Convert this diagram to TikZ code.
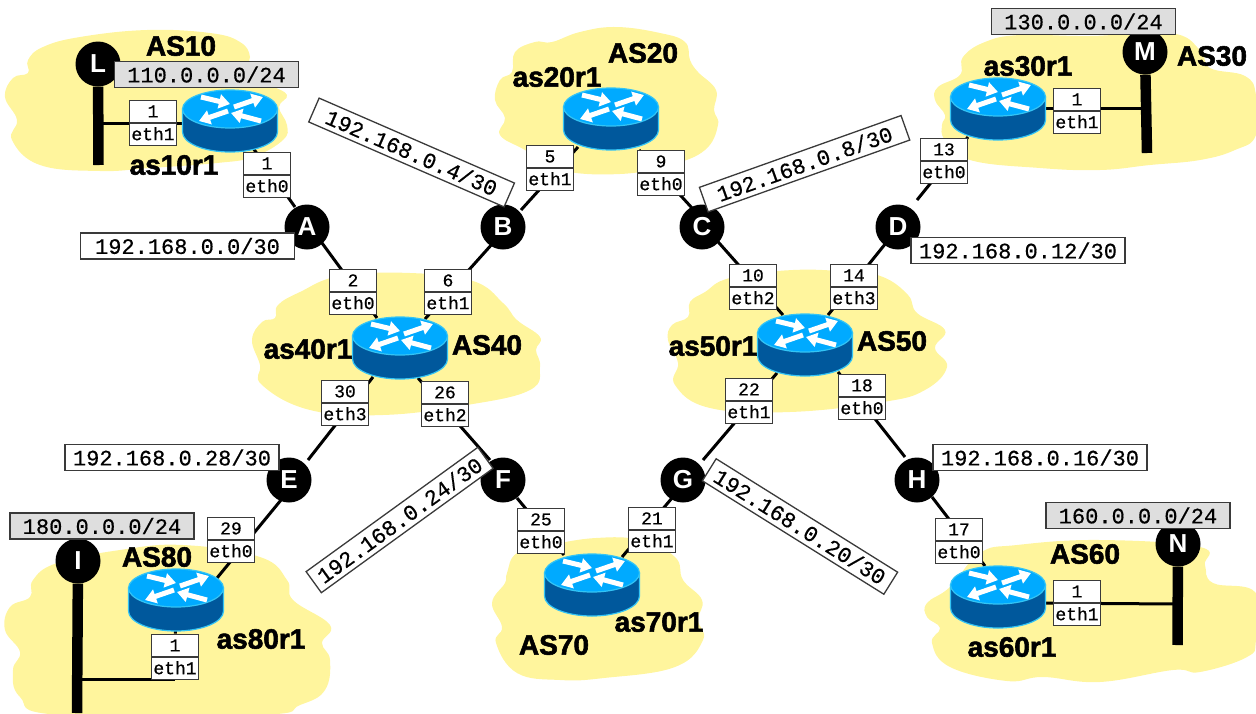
\documentclass[tikz,border=0pt]{standalone}
\usepackage{fontspec}
\setmainfont{Liberation Sans}
\newfontfamily\monof[FakeBold=0.5]{Liberation Mono}
\newfontfamily\monob[FakeBold=1.0]{Liberation Mono}
\newfontfamily\titlef[BoldFont={Liberation Sans Bold},BoldFeatures={FakeBold=2}]{Liberation Sans}
\usetikzlibrary{arrows.meta,shapes.multipart,calc}
\definecolor{cloudy}{HTML}{FFF59D}
\definecolor{rtop}{HTML}{00AAFF}
\definecolor{rside}{HTML}{00589C}
\definecolor{rrim}{HTML}{33C4F5}
\definecolor{grayb}{HTML}{DEDEDE}
\definecolor{boxline}{HTML}{3A3A3A}
\pgfdeclarelayer{cloudlayer}
\pgfdeclarelayer{linklayer}
\pgfsetlayers{cloudlayer,linklayer,main}
\tikzset{
  cloudpart/.style={fill=cloudy,draw=none},
  netlink/.style={draw=black,line width=3pt},
  busline/.style={draw=black,line width=10.5pt},
  hub/.style={circle,fill=black,minimum size=45pt,inner sep=0pt,text=white,font=\fontsize{26}{26}\selectfont\bfseries},
  ifbox/.style={rectangle split,rectangle split parts=2,draw=boxline,line width=1.3pt,fill=white,rectangle split part fill={white,black!4},minimum width=47pt,inner sep=0pt,text width=46pt,align=center,font=\fontsize{18}{18}\selectfont},
  subnetbox/.style={draw=boxline,line width=1.3pt,fill=white,minimum width=214pt,minimum height=26pt,inner sep=0pt,font=\monof\fontsize{22}{22}\selectfont},
  prefixbox/.style={subnetbox,fill=grayb,minimum width=184pt},
  titletext/.style={font=\titlef\bfseries\fontsize{28}{28}\selectfont,inner sep=0pt},
  routerbox/.style={rectangle,minimum width=95pt,minimum height=62pt,inner sep=0pt,draw=none},
  rarrow/.style={white,line width=5pt,-{Triangle[width=14pt,length=11pt]}}
}
\newcommand\routerat[3]{%
  \begin{scope}[shift={(#2,#3)}]
    \fill[rside,draw=rrim,line width=1.2pt] (-47.5,-12) -- (-47.5,11) arc[start angle=180,end angle=0,x radius=47.5,y radius=20] -- (47.5,-12) -- cycle;
    \fill[rtop,draw=rrim,line width=1.2pt] (0,-12) ellipse[x radius=47.5,y radius=19];
    \draw[rarrow] (-29,-24) -- (0,-17);
    \draw[rarrow] (4,-14) -- (33,-24);
    \draw[rarrow] (-2,-10) -- (-31,0);
    \draw[rarrow] (31,0) -- (1,-8);
  \end{scope}
  \node[routerbox] (#1) at (#2,#3) {};}
\newcommand\ifat[5]{\node[ifbox] (#1) at (#2,#3) {\rule[-5pt]{0pt}{21.5pt}\monof #4\nodepart{two}\rule[-5pt]{0pt}{21.5pt}\monob #5};}
\newcommand\hublink[6]{\draw[netlink] ($(#1)+(#2,#3)$) -- ($(#4)+(#5,#6)$);}
\begin{document}
\begin{tikzpicture}[x=1pt,y=-1pt]
\useasboundingbox (0,0) rectangle (1256,713);
\begin{pgfonlayer}{cloudlayer}
 % AS10
 \fill[cloudpart] plot[smooth cycle,tension=0.7] coordinates {(43,47)(80,37)(147,30)(210,33)(240,42)(250,57)(245,72)(270,85)(287,95)(279,107)(287,125)(283,140)(253,157)(217,163)(150,168)(100,171)(40,165)(12,140)(17,120)(5,97)(13,78)(28,73)(28,60)};
 % AS20
 \fill[cloudpart] plot[smooth cycle,tension=0.7] coordinates {(616,27)(660,33)(685,42)(690,60)(698,72)(716,90)(714,110)(718,125)(705,150)(670,165)(620,174)(560,170)(525,150)(500,135)(505,118)(495,100)(500,80)(512,72)(515,52)(535,42)(552,42)(580,32)};
 % AS30
 \fill[cloudpart] plot[smooth cycle,tension=0.7] coordinates {(1020,35)(1090,36)(1170,33)(1200,50)(1210,68)(1245,76)(1256,95)(1256,135)(1235,150)(1200,160)(1150,165)(1100,170)(1040,168)(970,160)(945,140)(942,125)(945,115)(935,100)(938,87)(960,75)(963,57)(985,42)};
 % AS40
 \fill[cloudpart] plot[smooth cycle,tension=0.7] coordinates {(300,292)(340,276)(410,273)(473,281)(503,303)(517,320)(540,337)(536,350)(540,367)(530,390)(467,405)(383,415)(310,410)(262,385)(260,365)(252,340)(262,322)(275,318)(278,305)};
 % AS50
 \fill[cloudpart] plot[smooth cycle,tension=0.7] coordinates {(705,292)(730,278)(793,270)(850,272)(883,277)(908,295)(917,313)(945,330)(935,348)(947,367)(925,390)(883,402)(790,412)(710,408)(675,385)(678,363)(668,340)(672,325)(688,317)(690,302)};
 % AS60
 \fill[cloudpart] plot[smooth cycle,tension=0.7] coordinates {(1017,545)(1100,540)(1200,547)(1205,565)(1213,583)(1256,593)(1256,640)(1247,657)(1200,672)(1173,670)(1100,682)(1043,677)(1007,681)(950,667)(932,643)(940,628)(927,617)(927,603)(950,587)(980,553)};
 % AS70
 \fill[cloudpart] plot[smooth cycle,tension=0.7] coordinates {(596,538)(640,540)(675,557)(683,580)(702,600)(698,620)(703,640)(675,667)(604,678)(560,680)(517,673)(496,643)(502,627)(492,603)(505,583)(507,573)(517,553)(550,545)};
 % AS80
 \fill[cloudpart] plot[smooth cycle,tension=0.7] coordinates {(120,550)(183,545)(260,557)(287,580)(293,600)(330,625)(322,643)(330,660)(325,690)(300,705)(260,715)(60,715)(20,697)(13,670)(20,652)(5,630)(10,607)(30,597)(33,580)(57,563)};
\end{pgfonlayer}

\routerat{as10r1}{230}{121}
\routerat{as20r1}{611}{119}
\routerat{as30r1}{998}{109}
\routerat{as40r1}{400}{348}
\routerat{as50r1}{805}{345}
\routerat{as60r1}{998}{597}
\routerat{as70r1}{592}{585}
\routerat{as80r1}{176}{600}

\node[hub] (L) at (98,64) {L};
\node[hub] (A) at (307,227) {A};
\node[hub] (B) at (503,227) {B};
\node[hub] (C) at (702,227) {C};
\node[hub] (D) at (898,227) {D};
\node[hub] (E) at (289,480) {E};
\node[hub] (F) at (503,480) {F};
\node[hub] (G) at (683,480) {G};
\node[hub] (H) at (917,480) {H};
\node[hub] (I) at (78,561) {I};
\node[hub] (M) at (1145,52) {M};
\node[hub] (N) at (1178,544) {N};

\ifat{a}{153}{123}{1}{eth1}
\ifat{b}{267}{175}{1}{eth0}
\ifat{c}{353}{292}{2}{eth0}
\ifat{d}{448}{292}{6}{eth1}
\ifat{e}{345}{403}{30}{eth3}
\ifat{f}{445}{404}{26}{eth2}
\ifat{g}{550}{168}{5}{eth1}
\ifat{h}{661}{173}{9}{eth0}
\ifat{i}{944}{161}{13}{eth0}
\ifat{j}{1077}{111}{1}{eth1}
\ifat{k}{753}{287}{10}{eth2}
\ifat{l}{854}{287}{14}{eth3}
\ifat{m}{749}{401}{22}{eth1}
\ifat{n}{862}{397}{18}{eth0}
\ifat{o}{959}{541}{17}{eth0}
\ifat{p}{1077}{603}{1}{eth1}
\ifat{q}{541}{531}{25}{eth0}
\ifat{r}{652}{530}{21}{eth1}
\ifat{s}{231}{540}{29}{eth0}
\ifat{t}{175}{657}{1}{eth1}

\coordinate (Lend) at (98.5,165);
\coordinate (Mend) at (1147,153);
\coordinate (Nend) at (1177.5,645);
\coordinate (Iend) at (77,713);
\coordinate (Lj) at (98.5,123);
\coordinate (Mj) at (1147,108);
\coordinate (Nj) at (1177.5,604);
\coordinate (Ij) at (77,679);
\coordinate (tj) at (175,679);
\coordinate (as10w) at (200,123);
\coordinate (as30e) at (1030,108);
\coordinate (as60e) at (1030,603);

\begin{pgfonlayer}{linklayer}
 \draw[busline] (L) -- (Lend);
 \draw[busline] (M) -- (Mend);
 \draw[busline] (N) -- (Nend);
 \draw[busline] (I) -- (Iend);
 \draw[netlink] (Lj) -- (as10w);
 \draw[netlink] (Mj) -- (as30e);
 \draw[netlink] (Nj) -- (as60e);
 \draw[netlink] (Ij) -- (tj);
 \draw[netlink] (t) -- (as80r1);
 \hublink{A}{-12}{-20}{as10r1}{23}{27}
 \hublink{A}{15}{16}{as40r1}{-23}{-30}
 \hublink{B}{18}{-17}{as20r1}{-33}{28}
 \hublink{B}{-10}{16}{as40r1}{25}{-29}
 \hublink{C}{-10}{-19}{as20r1}{28}{31}
 \hublink{C}{10}{8}{as50r1}{-22}{-30}
 \hublink{D}{19}{-27}{as30r1}{-30}{28}
 \hublink{D}{-8}{11}{as50r1}{23}{-30}
 \hublink{E}{19}{-20}{as40r1}{-27}{29}
 \hublink{E}{-8}{20}{as80r1}{41}{-22}
 \hublink{F}{-13}{-20}{as40r1}{18}{30}
 \hublink{F}{14}{18}{as70r1}{-28}{-30}
 \hublink{G}{20}{-20}{as50r1}{-28}{28}
 \hublink{G}{-11}{18}{as70r1}{30}{-28}
 \hublink{H}{-12}{-23}{as50r1}{33}{27}
 \hublink{H}{15}{17}{as60r1}{-13}{-31}
\end{pgfonlayer}

\node[subnetbox] (sA) at (187.5,246) {192.168.0.0/30};
\node[subnetbox] (sD) at (1018,250.5) {192.168.0.12/30};
\node[subnetbox] (sE) at (172,457.5) {192.168.0.28/30};
\node[subnetbox] (sH) at (1040,457.5) {192.168.0.16/30};
\node[subnetbox,rotate=-23.5,minimum width=213pt] (sB) at (411.6,152.5) {192.168.0.4/30};
\node[subnetbox,rotate=19.6] (sC) at (804.6,163.7) {192.168.0.8/30};
\node[subnetbox,rotate=35.9,minimum width=212pt] (sF) at (399.6,520) {192.168.0.24/30};
\node[subnetbox,rotate=-32] (sG) at (800,526.5) {192.168.0.20/30};
\node[prefixbox] (p10) at (206.5,74.5) {110.0.0.0/24};
\node[prefixbox] (p30) at (1083.5,21.5) {130.0.0.0/24};
\node[prefixbox] (p60) at (1138,515.5) {160.0.0.0/24};
\node[prefixbox] (p80) at (102,526) {180.0.0.0/24};

\node[titletext] (t10) at (181,46) {AS10};
\node[titletext] (t20) at (643,53) {AS20};
\node[titletext] (t30) at (1212,56) {AS30};
\node[titletext] (t40) at (487,345) {AS40};
\node[titletext] (t50) at (892,341) {AS50};
\node[titletext] (t60) at (1085,554) {AS60};
\node[titletext] (t70) at (554,645) {AS70};
\node[titletext] (t80) at (157,557) {AS80};
\node[titletext] (n10) at (174,165) {as10r1};
\node[titletext] (n20) at (557,77) {as20r1};
\node[titletext] (n30) at (1028,66) {as30r1};
\node[titletext] (n40) at (308,349) {as40r1};
\node[titletext] (n50) at (713,346) {as50r1};
\node[titletext] (n60) at (1012,647) {as60r1};
\node[titletext] (n70) at (659,622) {as70r1};
\node[titletext] (n80) at (261,639) {as80r1};
\end{tikzpicture}
\end{document}
